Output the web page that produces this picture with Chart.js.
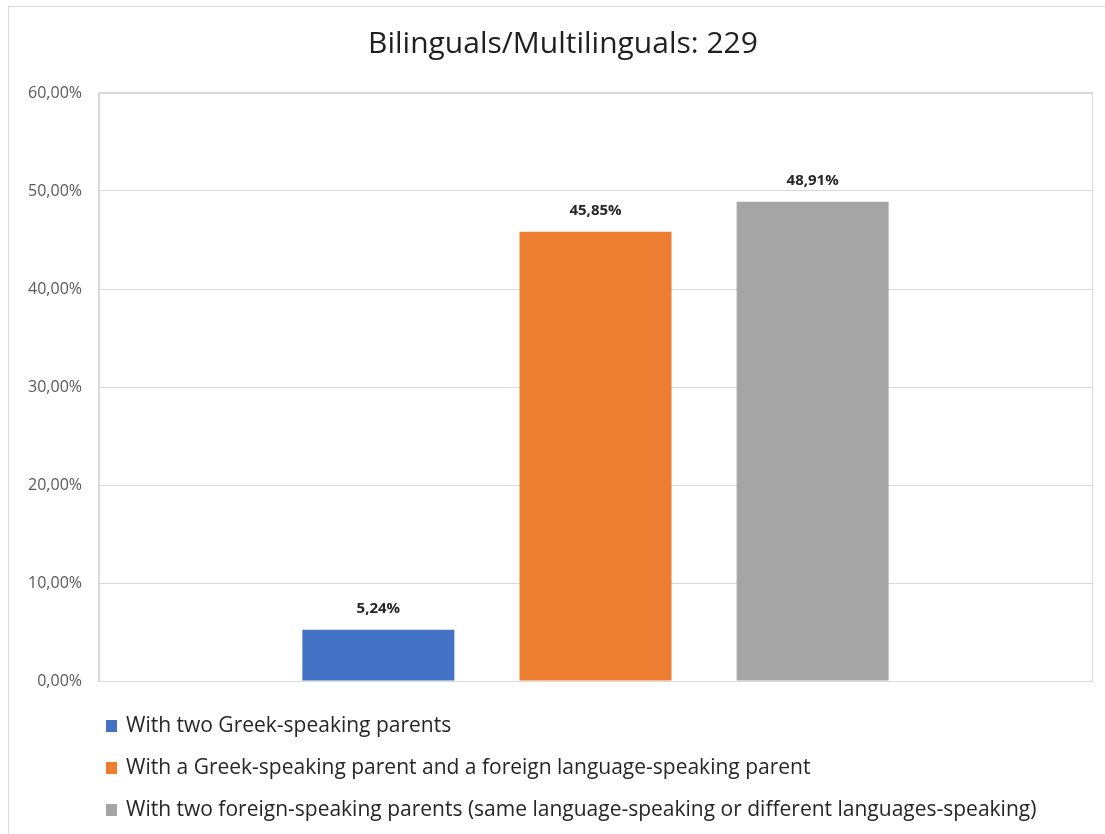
<!DOCTYPE html>
<html>
<head>
<meta charset="utf-8">
<title>Bilinguals/Multilinguals</title>
<script src="https://cdn.jsdelivr.net/npm/chart.js@4/dist/chart.umd.min.js"></script>
<style>
  html, body { margin: 0; padding: 0; background: #fff; }
  #wrap { position: relative; width: 1105px; height: 834px; }
</style>
</head>
<body>
<div id="wrap"><canvas id="chart"></canvas></div>
<script>
// Share of bilingual/multilingual pupils by parents' language
const titleText = 'Bilinguals/Multilinguals: 229';
const categories = [''];
const seriesLabels = [
    'With two Greek-speaking parents',
    'With a Greek-speaking parent and a foreign language-speaking parent',
    'With two foreign-speaking parents (same language-speaking or different languages-speaking)'
];
const seriesValues = [5.24, 45.85, 48.91];
const seriesColors = ['#4472C4', '#ED7D31', '#A5A5A5'];
const yTicks = [0, 10, 20, 30, 40, 50, 60];

const FONT = '"Open Sans", Lato, sans-serif';
const GRID = '#d9d9d9';

function pct(v) {
    return v.toFixed(2).replace('.', ',') + '%';
}

// white page, outer frame and the plot box
const framePlugin = {
    id: 'frame',
    afterLayout(chart) {
        // centre the title over the outer frame rather than the canvas
        if (chart.titleBlock) chart.titleBlock.left = 34;
    },
    beforeDraw(chart) {
        const { ctx, width, height, chartArea } = chart;
        ctx.save();
        ctx.fillStyle = '#fff';
        ctx.fillRect(0, 0, width, height);
        ctx.strokeStyle = GRID;
        ctx.lineWidth = 1;
        ctx.strokeRect(8.5, 6.5, width + 20, height + 20);
        ctx.strokeRect(chartArea.left - 0.5, chartArea.top - 0.5,
            chartArea.right - chartArea.left + 1, chartArea.bottom - chartArea.top + 1);
        ctx.restore();
    }
};

// value labels above each bar
const valueLabels = {
    id: 'valueLabels',
    afterDatasetsDraw(chart) {
        const { ctx } = chart;
        ctx.save();
        ctx.font = 'bold 15px ' + FONT;
        ctx.fillStyle = '#262626';
        ctx.textAlign = 'center';
        ctx.textBaseline = 'middle';
        chart.data.datasets.forEach((ds, i) => {
            const meta = chart.getDatasetMeta(i);
            meta.data.forEach((bar, j) => {
                ctx.fillText(pct(ds.data[j]), bar.x, bar.y - 21);
            });
        });
        ctx.restore();
    }
};

// stacked legend rows under the plot
const stackedLegend = {
    id: 'stackedLegend',
    afterDraw(chart) {
        const { ctx, chartArea } = chart;
        ctx.save();
        ctx.font = '21px ' + FONT;
        ctx.textAlign = 'left';
        ctx.textBaseline = 'middle';
        chart.data.datasets.forEach((ds, i) => {
            const y = chartArea.bottom + 45 + i * 42;
            ctx.fillStyle = ds.backgroundColor;
            ctx.fillRect(106, Math.round(y - 6), 11, 12);
            ctx.fillStyle = '#262626';
            ctx.fillText(ds.label, 126, y);
        });
        ctx.restore();
    }
};

const datasets = seriesLabels.map((label, i) => ({
    label,
    data: [seriesValues[i]],
    backgroundColor: seriesColors[i],
    borderWidth: 0,
    categoryPercentage: 0.656,
    barPercentage: 0.70
}));

new Chart(document.getElementById('chart'), {
    type: 'bar',
    data: { labels: categories, datasets },
    options: {
        responsive: true,
        maintainAspectRatio: false,
        animation: false,
        layout: { padding: { left: 0, right: 13, top: 0, bottom: 153 } },
        scales: {
            x: {
                grid: { display: false, drawTicks: false },
                border: { display: true, color: GRID },
                ticks: { display: false }
            },
            y: {
                min: 0,
                max: 60,
                afterBuildTicks(scale) {
                    scale.ticks = yTicks.map((v) => ({ value: v }));
                },
                afterFit(scale) {
                    scale.width = 99;
                },
                grid: { color: GRID, drawTicks: false },
                border: { display: true, color: GRID },
                ticks: {
                    padding: 17,
                    color: '#595959',
                    font: { family: FONT, size: 16 },
                    callback: (v) => pct(v)
                }
            }
        },
        plugins: {
            legend: { display: false },
            tooltip: { enabled: false },
            title: {
                display: true,
                text: titleText,
                color: '#1f1f1f',
                font: { family: FONT, size: 30, weight: 'normal', lineHeight: 1.2 },
                padding: { top: 26, bottom: 31 }
            }
        }
    },
    plugins: [framePlugin, valueLabels, stackedLegend]
});
</script>
</body>
</html>
